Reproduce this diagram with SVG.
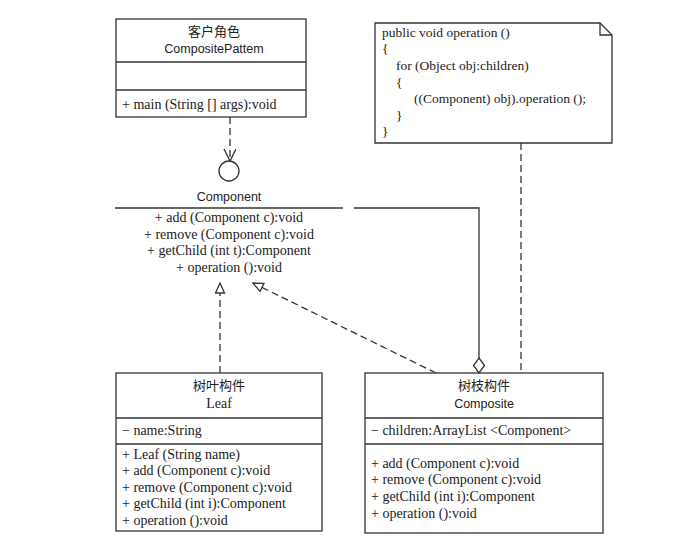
<svg xmlns="http://www.w3.org/2000/svg" width="684" height="544" viewBox="0 0 684 544">
<style>
.box{fill:#fff;stroke:#333;stroke-width:1.3}
.ln{fill:none;stroke:#333;stroke-width:1.3}
.dash{fill:none;stroke:#333;stroke-width:1.3;stroke-dasharray:7,4}
text{font-family:"Liberation Serif","Noto Sans CJK SC",serif;font-size:14px;fill:#222}
.nt{font-size:13.5px}
.cn{font-family:"Noto Sans CJK SC",sans-serif;font-size:13px}
.ss{font-family:"Liberation Sans","Noto Sans CJK SC",sans-serif;font-size:12.5px}
.c{text-anchor:middle}
</style>
<defs>
<marker id="tri" markerWidth="12" markerHeight="12" refX="11" refY="5.5" orient="auto" markerUnits="userSpaceOnUse">
<path d="M1,1 L11,5.5 L1,10 z" fill="#fff" stroke="#333" stroke-width="1.3"/>
</marker>
<marker id="vee" markerWidth="14" markerHeight="14" refX="12" refY="6" orient="auto" markerUnits="userSpaceOnUse">
<path d="M0,0 L12,6 L0,12" fill="none" stroke="#333" stroke-width="1.3"/>
</marker>
</defs>
<rect width="684" height="544" fill="#fff"/>

<g id="client">
<rect class="box" x="116" y="19" width="190" height="98"/>
<line class="ln" x1="116" y1="62" x2="306" y2="62"/>
<line class="ln" x1="116" y1="90" x2="306" y2="90"/>
<text class="cn c" x="214" y="36">客户角色</text>
<text class="ss c" x="214" y="53">CompositePattem</text>
<text x="122" y="109">+ main (String [] args):void</text>
</g>

<g id="note">
<path class="box" d="M375,23 L600,23 L612,35 L612,143 L375,143 z"/>
<path class="ln" d="M600,23 L600,35 L612,35"/>
<text class="nt" x="382" y="37">public void operation ()</text>
<text class="nt" x="382" y="53">{</text>
<text class="nt" x="396" y="70">for (Object obj:children)</text>
<text class="nt" x="396" y="87">{</text>
<text class="nt" x="414" y="103">((Component) obj).operation ();</text>
<text class="nt" x="396" y="120">}</text>
<text class="nt" x="382" y="136">}</text>
</g>

<g id="component">
<circle class="box" cx="229" cy="171" r="10"/>
<text class="ss c" x="229" y="201">Component</text>
<line class="ln" x1="115" y1="208" x2="343" y2="208"/>
<text class="c" x="229" y="222">+ add (Component c):void</text>
<text class="c" x="229" y="239">+ remove (Component c):void</text>
<text class="c" x="229" y="255">+ getChild (int t):Component</text>
<text class="c" x="229" y="272">+ operation ():void</text>
</g>

<g id="leaf">
<rect class="box" x="116" y="373" width="206" height="158"/>
<line class="ln" x1="116" y1="418" x2="322" y2="418"/>
<line class="ln" x1="116" y1="444" x2="322" y2="444"/>
<text class="cn c" x="219" y="390">树叶构件</text>
<text class="c" x="219" y="408">Leaf</text>
<text x="122" y="435">− name:String</text>
<text x="122" y="459">+ Leaf (String name)</text>
<text x="122" y="475">+ add (Component c):void</text>
<text x="122" y="492">+ remove (Component c):void</text>
<text x="122" y="508">+ getChild (int i):Component</text>
<text x="122" y="525">+ operation ():void</text>
</g>

<g id="composite">
<rect class="box" x="365" y="373" width="238" height="160"/>
<line class="ln" x1="365" y1="418" x2="603" y2="418"/>
<line class="ln" x1="365" y1="444" x2="603" y2="444"/>
<text class="cn c" x="484" y="390">树枝构件</text>
<text class="ss c" x="484" y="408">Composite</text>
<text x="371" y="435">− children:ArrayList &lt;Component&gt;</text>
<text x="371" y="468">+ add (Component c):void</text>
<text x="371" y="484">+ remove (Component c):void</text>
<text x="371" y="501">+ getChild (int i):Component</text>
<text x="371" y="518">+ operation ():void</text>
</g>

<g id="connectors">
<line class="dash" x1="230" y1="117" x2="230" y2="161" marker-end="url(#vee)"/>
<line class="dash" x1="220" y1="373" x2="220" y2="283" marker-end="url(#tri)"/>
<line class="dash" x1="436" y1="373" x2="253" y2="283" marker-end="url(#tri)"/>
<path class="ln" d="M354,208 L479,208 L479,358"/>
<path class="box" d="M479,358 L484.5,365.5 L479,373 L473.5,365.5 z"/>
<line class="dash" x1="521" y1="143" x2="521" y2="373"/>
</g>
</svg>
